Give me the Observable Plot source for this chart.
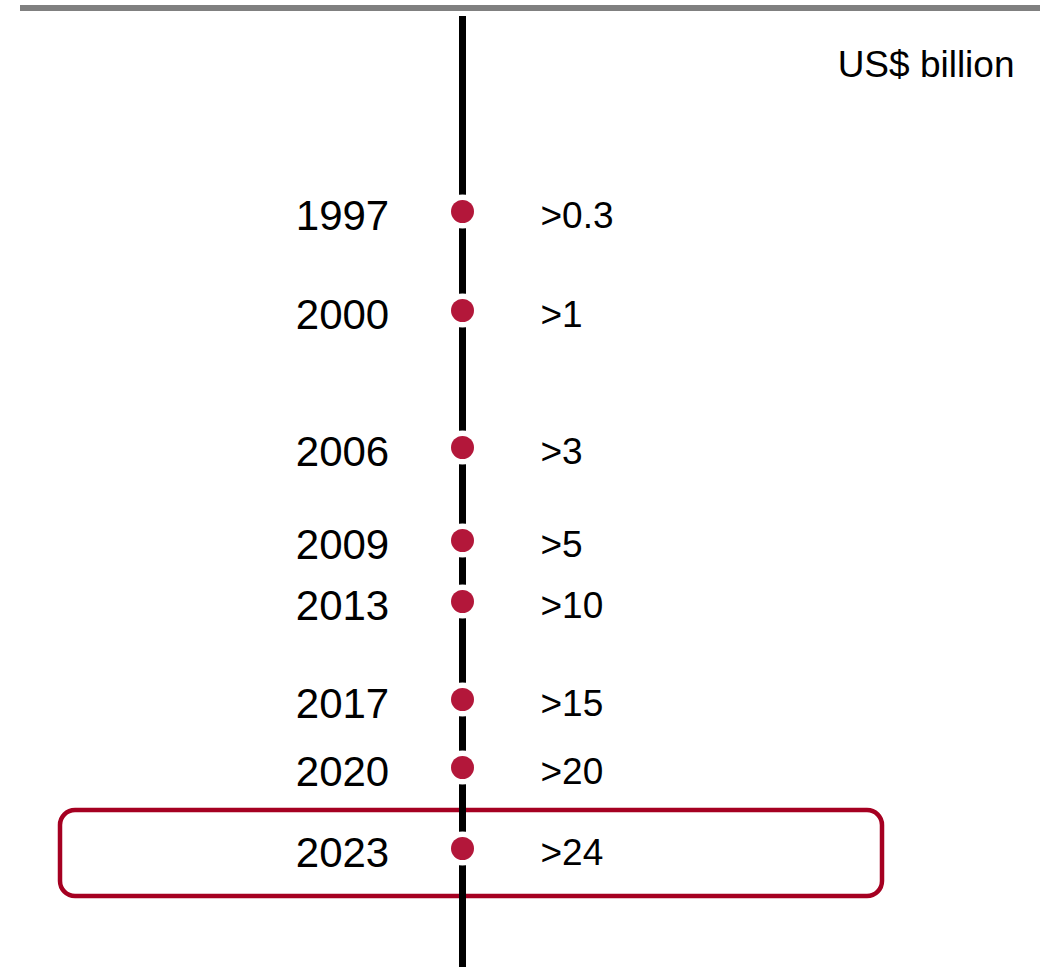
<!DOCTYPE html>
<html>
<head>
<meta charset="utf-8">
<script src="https://cdn.jsdelivr.net/npm/d3@7"></script>
<script src="https://cdn.jsdelivr.net/npm/@observablehq/plot@0.6"></script>
<style>
  html, body { margin: 0; padding: 0; background: white; }
  #wrap { position: relative; width: 1043px; height: 967px; }
  #topbar { position: absolute; left: 20px; top: 5px; width: 1020px; height: 6px; background: #808080; z-index: 2; }
  #chart svg { display: block; }
</style>
</head>
<body>
<div id="wrap">
  <div id="topbar"></div>
  <div id="chart"></div>
</div>
<script>
// ---- data ----
const years = [1997, 2000, 2006, 2009, 2013, 2017, 2020, 2023];
const valueLabels = [">0.3", ">1", ">3", ">5", ">10", ">15", ">20", ">24"];
const highlightYear = [2023];
const unitLabel = ["US$ billion"];

// ---- layout (scale range, not data) ----
const rowPositions = [216, 315, 452, 545, 606, 704, 772, 853];
const axisX = 462, yearX = 342, valueX = 540;

const rows = years.map((year, i) => ({year, label: valueLabels[i]}));

const chart = Plot.plot({
  width: 1043,
  height: 967,
  marginTop: 16,
  marginBottom: 0,
  marginLeft: 0,
  marginRight: 0,
  x: {type: "identity", axis: null},
  y: {type: "linear", domain: years, range: rowPositions, axis: null},
  style: {fontFamily: "'Liberation Sans', Arial, Helvetica, sans-serif", background: "white", color: "black"},
  marks: [
    Plot.rect(highlightYear, {
      x1: 60, x2: 882, y1: d => d, y2: d => d,
      insetTop: -43, insetBottom: -43, rx: 15,
      fill: "none", stroke: "#a50021", strokeWidth: 4.5
    }),
    Plot.ruleX([axisX], {stroke: "black", strokeWidth: 7}),
    Plot.dot(rows, {x: axisX, y: "year", dy: -5, r: 17, fill: "white", stroke: "none"}),
    Plot.dot(rows, {x: axisX, y: "year", dy: -5, r: 11.5, fill: "#b3173a", stroke: "none"}),
    Plot.text(rows, {x: yearX, y: "year", text: d => String(d.year), fontSize: 42, textAnchor: "middle", fill: "black"}),
    Plot.text(rows, {x: valueX, y: "year", text: "label", fontSize: 37, textAnchor: "start", fill: "black"}),
    Plot.text(unitLabel, {frameAnchor: "top-right", dx: -29, dy: 49, text: d => d, fontSize: 37, textAnchor: "end", lineAnchor: "middle", fill: "black"})
  ]
});
document.getElementById("chart").appendChild(chart);
</script>
</body>
</html>
